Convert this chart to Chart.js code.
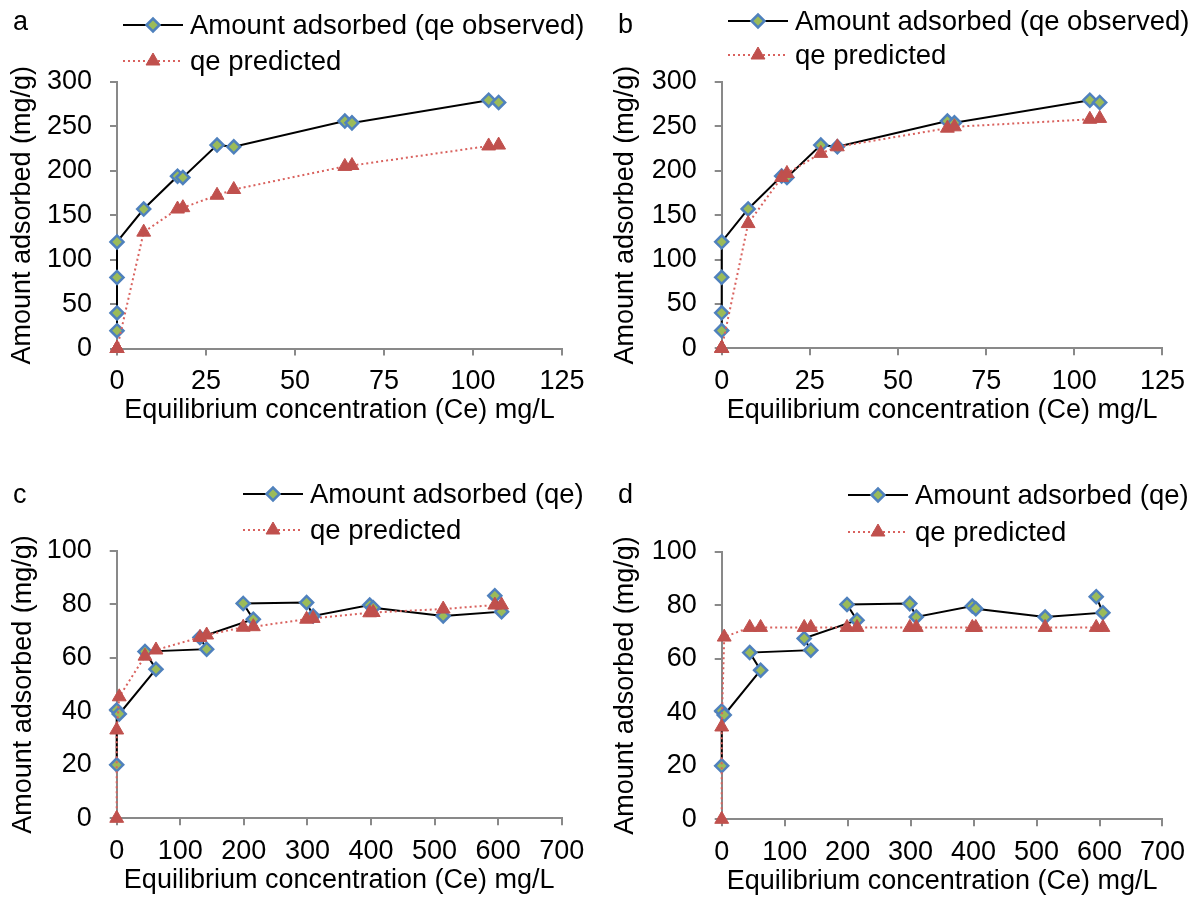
<!DOCTYPE html>
<html><head><meta charset="utf-8">
<script src="https://cdn.jsdelivr.net/npm/chart.js@4.4.0/dist/chart.umd.min.js"></script>
<style>
html,body{margin:0;padding:0;background:#fff;}
body{width:1195px;height:905px;position:relative;overflow:hidden;}
canvas{position:absolute;}
</style></head><body>
<canvas id="ca" width="597" height="452" style="left:0;top:0"></canvas>
<canvas id="cb" width="598" height="452" style="left:597px;top:0"></canvas>
<canvas id="cc" width="597" height="453" style="left:0;top:452px"></canvas>
<canvas id="cd" width="598" height="453" style="left:597px;top:452px"></canvas>
<script>
// ---------------- DATA ----------------
const abCe          = [0, 0, 0, 0, 7.5, 17, 18.5, 28.1, 32.8, 64, 66, 104.4, 107.2];
const abQeObserved  = [20, 40, 80, 120, 157, 194, 192.5, 229, 227, 256, 254, 279.5, 277];
const aQePredicted  = [0, 0, 0, 0, 131, 157, 158.5, 172.5, 179, 205, 206, 228, 229];
const bQePredicted  = [0, 0, 0, 0, 140.5, 192.5, 197, 219.6, 227, 248, 249.5, 258, 259];

const cdCeObserved  = [0, 0, 4, 61.8, 44.5, 141.5, 131, 214.9, 199, 298.7, 309, 398, 403.5, 513.6, 605.4, 594.8];
const cdQeObserved  = [20, 40.5, 39, 55.7, 62.3, 63.2, 67.6, 74.4, 80.3, 80.6, 75.6, 79.7, 78.7, 75.6, 77.2, 83.2];
const cdCePredicted = [0, 0, 4, 44.5, 61.8, 131, 141.5, 199, 214.9, 298.7, 309, 398, 403.5, 513.6, 594.8, 605.4];
const cQePredicted  = [0, 33, 45.4, 60.6, 62.9, 67.6, 68.5, 71.4, 71.6, 74.4, 74.7, 76.8, 76.9, 78.2, 79.7, 79.7];
const dQePredicted  = [0, 34.5, 68.1, 71.7, 71.7, 71.7, 71.7, 71.7, 71.7, 71.7, 71.7, 71.7, 71.7, 71.7, 71.7, 71.7];

const abXTicks = [0, 25, 50, 75, 100, 125];
const abYTicks = [0, 50, 100, 150, 200, 250, 300];
const cdXTicks = [0, 100, 200, 300, 400, 500, 600, 700];
const cdYTicks = [0, 20, 40, 60, 80, 100];

const panelLetters = ['a', 'b', 'c', 'd'];
const obsLabelAB = 'Amount adsorbed (qe observed)';
const obsLabelCD = 'Amount adsorbed (qe)';
const predLabel = 'qe predicted';
const xTitle = 'Equilibrium concentration (Ce) mg/L';
const yTitle = 'Amount adsorbed (mg/g)';

// ---------------- STYLE ----------------
const FONT = "'Liberation Sans', Arial, sans-serif";
const AXIS_COLOR = '#898989';
const zip = (xs, ys) => xs.map((x, i) => ({x: x, y: ys[i]}));

function obsDataset(label, xs, ys) {
  return {
    label: label, data: zip(xs, ys), showLine: true, order: 1, clip: false,
    borderColor: '#000000', borderWidth: 2,
    pointStyle: 'rectRot', pointRadius: 6.5, pointHoverRadius: 6.5,
    pointBackgroundColor: '#9BBB59', pointBorderColor: '#4F81BD', pointBorderWidth: 2.5
  };
}
function predDataset(label, xs, ys) {
  return {
    label: label, data: zip(xs, ys), showLine: true, order: 0, clip: false,
    borderColor: '#D9625E', borderWidth: 2, borderDash: [2, 3],
    pointStyle: 'triangle', pointRadius: 8, pointHoverRadius: 8,
    pointBackgroundColor: '#C0504D', pointBorderColor: '#C0504D', pointBorderWidth: 1
  };
}

const legendPlugin = {
  id: 'excelLegend',
  afterDraw(chart) {
    const o = chart.options.plugins.excelLegend;
    const ctx = chart.ctx;
    ctx.save();
    ctx.fillStyle = '#000';
    ctx.font = '27px ' + FONT;
    ctx.textBaseline = 'alphabetic';
    ctx.textAlign = 'left';
    ctx.fillText(o.letter, o.letterX, o.letterY);
    chart.data.datasets.forEach((ds, i) => {
      const y = o.rows[i];
      const x0 = o.lineX, x1 = o.lineX + 60;
      ctx.save();
      ctx.strokeStyle = ds.borderColor;
      ctx.lineWidth = ds.borderWidth;
      ctx.setLineDash(ds.borderDash || []);
      ctx.beginPath(); ctx.moveTo(x0, y); ctx.lineTo(x1, y); ctx.stroke();
      ctx.restore();
      ctx.save();
      ctx.fillStyle = ds.pointBackgroundColor;
      ctx.strokeStyle = ds.pointBorderColor;
      ctx.lineWidth = ds.pointBorderWidth;
      Chart.helpers.drawPoint(ctx, {pointStyle: ds.pointStyle, radius: ds.pointRadius, rotation: 0, borderWidth: ds.pointBorderWidth}, (x0 + x1) / 2, y);
      ctx.restore();
      ctx.font = '27.5px ' + FONT;
      ctx.textBaseline = 'middle';
      ctx.fillText(ds.label, x1 + 7, y + 1);
    });
    ctx.restore();
  }
};

function makePanel(id, p, datasets, xTicks, yTicks) {
  const canvas = document.getElementById(id);
  const W = canvas.width, H = canvas.height;
  const tickFont = {family: FONT, size: 27};
  new Chart(canvas, {
    type: 'scatter',
    data: {datasets: datasets},
    options: {
      responsive: false, animation: false, devicePixelRatio: 1,
      layout: {padding: {left: 0, top: p.t, right: W - p.r, bottom: 0}},
      plugins: {
        legend: {display: false}, tooltip: {enabled: false},
        excelLegend: {letter: p.letter, letterX: p.letterX, letterY: p.letterY, lineX: p.lineX, rows: p.rows}
      },
      scales: {
        x: {
          type: 'linear', min: xTicks[0], max: xTicks[xTicks.length - 1],
          afterBuildTicks: s => { s.ticks = xTicks.map(v => ({value: v})); },
          afterFit: s => { s.height = H - p.b; },
          grid: {drawOnChartArea: false, drawTicks: true, tickLength: 7, color: AXIS_COLOR, lineWidth: 2},
          border: {color: AXIS_COLOR, width: 2},
          ticks: {color: '#000', font: tickFont, padding: 10, maxRotation: 0, autoSkip: false},
          title: {display: true, text: xTitle, color: '#000', font: {family: FONT, size: 27, lineHeight: 1.2},
                  padding: {top: 0, bottom: H - (p.b + 62) - 16.2}}
        },
        y: {
          type: 'linear', min: yTicks[0], max: yTicks[yTicks.length - 1],
          afterBuildTicks: s => { s.ticks = yTicks.map(v => ({value: v})); },
          afterFit: s => { s.width = p.l; },
          grid: {drawOnChartArea: false, drawTicks: true, tickLength: 7, color: AXIS_COLOR, lineWidth: 2},
          border: {color: AXIS_COLOR, width: 2},
          ticks: {color: '#000', font: tickFont, padding: 18, autoSkip: false},
          title: {display: true, text: yTitle, color: '#000', font: {family: FONT, size: 27, lineHeight: 1.2},
                  padding: {top: p.yTitleX - 16.2, bottom: 0}}
        }
      }
    },
    plugins: [legendPlugin]
  });
}

makePanel('ca', {l: 117, r: 562, t: 82, b: 348.5, letter: panelLetters[0], letterX: 13, letterY: 30, lineX: 123, rows: [25, 61], yTitleX: 23},
  [obsDataset(obsLabelAB, abCe, abQeObserved), predDataset(predLabel, abCe, aQePredicted)], abXTicks, abYTicks);
makePanel('cb', {l: 124.7, r: 569.7, t: 82, b: 348.3, letter: panelLetters[1], letterX: 21, letterY: 33, lineX: 131, rows: [21, 55], yTitleX: 29},
  [obsDataset(obsLabelAB, abCe, abQeObserved), predDataset(predLabel, abCe, bQePredicted)], abXTicks, abYTicks);
makePanel('cc', {l: 116.7, r: 561.7, t: 98.7, b: 366.3, letter: panelLetters[2], letterX: 13, letterY: 51, lineX: 243, rows: [42, 78], yTitleX: 24},
  [obsDataset(obsLabelCD, cdCeObserved, cdQeObserved), predDataset(predLabel, cdCePredicted, cQePredicted)], cdXTicks, cdYTicks);
makePanel('cd', {l: 124.7, r: 569.7, t: 99.7, b: 367.3, letter: panelLetters[3], letterX: 21, letterY: 51, lineX: 251, rows: [43, 80], yTitleX: 29},
  [obsDataset(obsLabelCD, cdCeObserved, cdQeObserved), predDataset(predLabel, cdCePredicted, dQePredicted)], cdXTicks, cdYTicks);
</script>
</body></html>
